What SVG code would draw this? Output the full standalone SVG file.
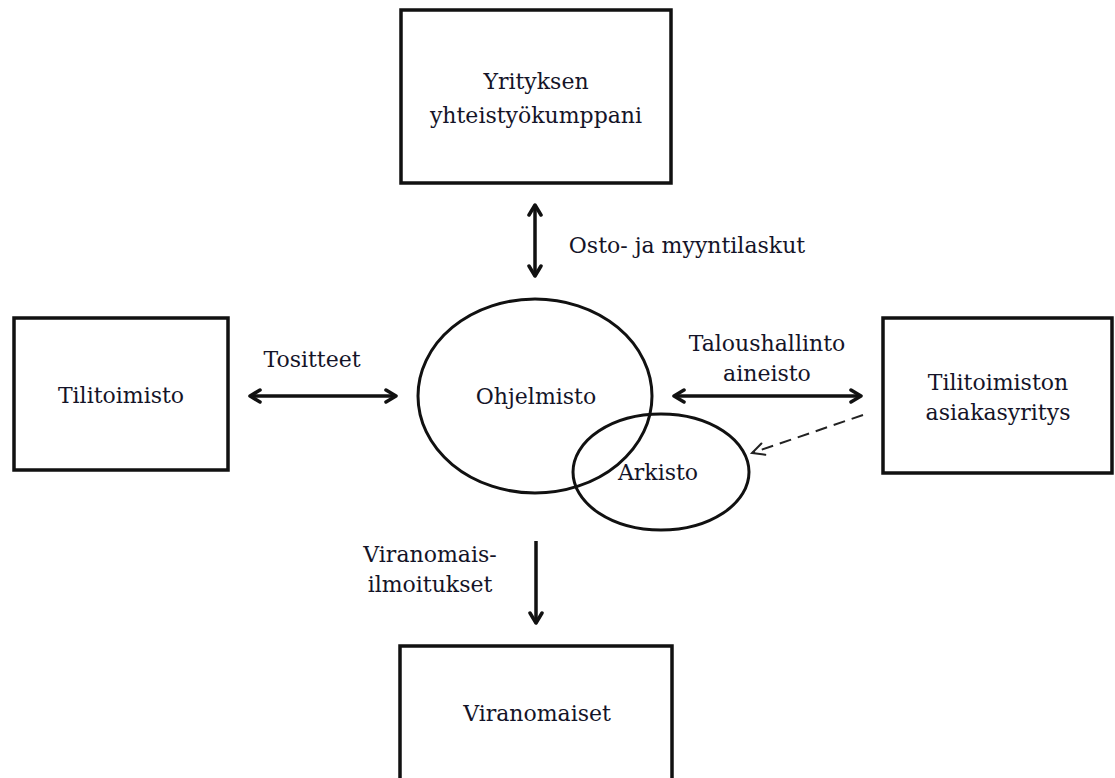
<svg xmlns="http://www.w3.org/2000/svg" width="1115" height="778" viewBox="0 0 1115 778">
<style>
.box{fill:#fff;stroke:#111;stroke-width:3.5}
.ell{fill:none;stroke:#111;stroke-width:3}
.t{font-family:"DejaVu Serif","Liberation Serif",serif;font-size:22px;fill:#141428;text-anchor:middle}
.c{fill:none;stroke:#111;stroke-width:3.5}
.d{fill:none;stroke:#222;stroke-width:2;stroke-dasharray:12,7}
</style>
<defs>
<marker id="ah" viewBox="0 0 14 16" refX="12" refY="8" markerWidth="14" markerHeight="16" markerUnits="userSpaceOnUse" orient="auto-start-reverse">
<path d="M2,2 L12,8 L2,14" fill="none" stroke="#111" stroke-width="3.5" stroke-linecap="round" stroke-linejoin="round"/>
</marker>
<marker id="ahd" viewBox="0 0 16 16" refX="14" refY="8" markerWidth="16" markerHeight="16" markerUnits="userSpaceOnUse" orient="auto">
<path d="M2,2 L14,8 L2,14" fill="none" stroke="#222" stroke-width="2" stroke-linecap="round"/>
</marker>
</defs>
<g id="connectors">
<line class="c" x1="535" y1="205" x2="535" y2="276" marker-start="url(#ah)" marker-end="url(#ah)"/>
<line class="c" x1="250" y1="396" x2="396" y2="396" marker-start="url(#ah)" marker-end="url(#ah)"/>
<line class="c" x1="674" y1="396" x2="861" y2="396" marker-start="url(#ah)" marker-end="url(#ah)"/>
<line class="c" x1="536" y1="541" x2="536" y2="623" marker-end="url(#ah)"/>
<line class="d" x1="863" y1="415" x2="752" y2="453" marker-end="url(#ahd)"/>
<text class="t" x="687" y="253">Osto- ja myyntilaskut</text>
<text class="t" x="312" y="367">Tositteet</text>
<text class="t" x="767" y="351">Taloushallinto</text>
<text class="t" x="767" y="381">aineisto</text>
<text class="t" x="430" y="562">Viranomais-</text>
<text class="t" x="430" y="592">ilmoitukset</text>
</g>
<g id="yrityksen">
<rect class="box" x="401" y="10" width="270" height="173"/>
<text class="t" x="536" y="89">Yrityksen</text>
<text class="t" x="536" y="123">yhteistyökumppani</text>
</g>
<g id="tilitoimisto">
<rect class="box" x="14" y="318" width="214" height="152"/>
<text class="t" x="121" y="403">Tilitoimisto</text>
</g>
<g id="ohjelmisto">
<ellipse class="ell" cx="535" cy="396" rx="117" ry="97"/>
<text class="t" x="536" y="404">Ohjelmisto</text>
</g>
<g id="arkisto">
<ellipse class="ell" cx="661" cy="472" rx="88" ry="58"/>
<text class="t" x="658" y="480">Arkisto</text>
</g>
<g id="asiakasyritys">
<rect class="box" x="883" y="318" width="229" height="155"/>
<text class="t" x="998" y="390">Tilitoimiston</text>
<text class="t" x="998" y="420">asiakasyritys</text>
</g>
<g id="viranomaiset">
<rect class="box" x="400" y="646" width="272" height="140"/>
<text class="t" x="537" y="721">Viranomaiset</text>
</g>
</svg>
